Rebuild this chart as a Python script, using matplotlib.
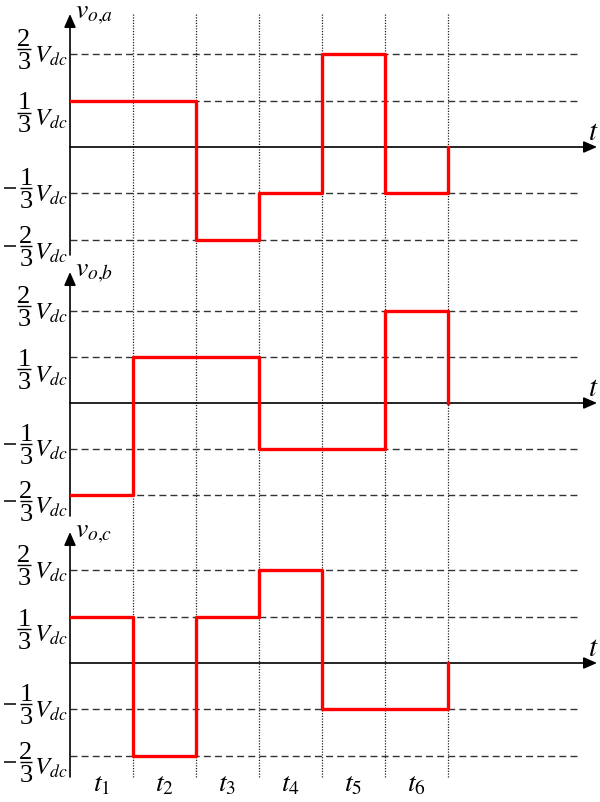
import numpy as np
import matplotlib.pyplot as plt

plt.rcParams['mathtext.fontset'] = 'stix'
plt.rcParams['font.family'] = 'Liberation Serif'

# levels in units of Vdc/3, one value per interval t1..t6
va = [1, 1, -2, -1, 2, -1]
vb = [-2, 1, 1, -1, -1, 2]
vc = [1, -2, 1, 2, -1, -1]
names = ['a', 'b', 'c']
levels = [2, 1, -1, -2]
numerators = ['2', '1', '1', '2']
t_labels = [r'$t_{%d}$' % i for i in range(1, 7)]

W, H = 600, 803
x0 = 70
px_t = 63.0
xmax = (W - x0) / px_t

# panel pixel layout: top, bottom, zero line, px per level, y-axis tip, y-axis end
panels = [(0, 262, 148, 46.5, 15, 256),
          (262, 522, 404, 45.8, 273, 517),
          (522, 803, 664, 46.3, 533, 778)]
# vertical shift (px) of each label's fraction bar from its dashed line
bar_shift = {2: -5, 1: 12, -1: -5, -2: 6}

fig = plt.figure(figsize=(W / 100, H / 100), dpi=100)

# overlay for the vertical dotted separators and t_i labels (pixel y)
ov = fig.add_axes([x0 / W, 0, (W - x0) / W, 1])
ov.set_xlim(0, xmax)
ov.set_ylim(H, 0)
ov.axis('off')
ov.vlines(np.arange(1, 7), 15, 778, colors='#222222', lw=0.9,
          linestyles=(0, (1, 1.2)))
for i, lab in enumerate(t_labels):
    ov.text(i + 0.5, 785, lab, ha='center', va='center', fontsize=20)

hd = dict(arrowstyle='-|>,head_length=0.8,head_width=0.35',
          color='black', lw=1.2, shrinkA=0, shrinkB=0)

for sig, name, (top, bot, zero, u, tip, yend) in zip([va, vb, vc], names, panels):
    ax = fig.add_axes([x0 / W, 1 - bot / H, (W - x0) / W, (bot - top) / H])
    ax.set_xlim(0, xmax)
    ax.set_ylim(-(bot - zero) / u, (zero - top) / u)
    ax.axis('off')

    def X(px):
        return px / px_t

    for lv in levels:
        ax.plot([0, X(580 - x0)], [lv, lv], color='#333333', lw=1.0,
                ls=(0, (5, 3)))

    # t axis and v axis
    ax.annotate('', xy=(X(597 - x0), 0), xytext=(0, 0), arrowprops=hd)
    ax.annotate('', xy=(0, (zero - tip) / u), xytext=(0, -(yend - zero) / u),
                arrowprops=hd)
    ax.text(X(593 - x0), 15 / u, r'$t$', ha='center', va='center', fontsize=21)
    ax.text(X(5), (zero - tip) / u, r'$v_{o{,}%s}$' % name, ha='left',
            va='center', fontsize=20)

    # fraction labels  (n/3) V_dc
    for lv, num in zip(levels, numerators):
        yb = lv - bar_shift[lv] / u
        if lv > 0:
            cx, b0, b1, vx = -46, -53, -39, -36
        else:
            cx, b0, b1, vx = -44, -50, -38, -36
            ax.plot([X(-66), X(-54)], [yb, yb], color='black', lw=1.1,
                    clip_on=False, solid_capstyle='butt')
        ax.plot([X(b0), X(b1)], [yb, yb], color='black', lw=1.0,
                clip_on=False, solid_capstyle='butt')
        ax.text(X(cx), yb + 10 / u, num, ha='center', va='center', fontsize=19)
        ax.text(X(cx), yb - 13 / u, '3', ha='center', va='center', fontsize=19)
        ax.text(X(vx), yb - 6 / u, r'$V_{dc}$', ha='left', va='center',
                fontsize=18)

    x = list(range(7)) + [6]
    y = sig + [sig[-1], 0]
    ax.step(x, y, where='post', color='#ff0000', lw=2.4, zorder=5)

fig.savefig('out.png', dpi=100)
